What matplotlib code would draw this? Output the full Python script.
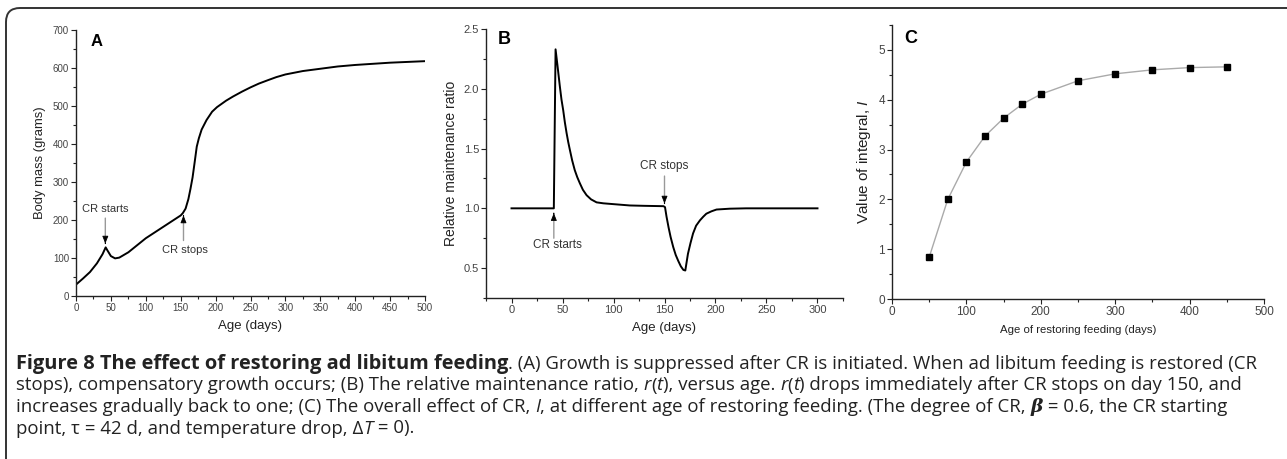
import matplotlib
matplotlib.use('Agg')
import matplotlib.pyplot as plt
from matplotlib.patches import FancyBboxPatch
from matplotlib.ticker import MultipleLocator
from matplotlib.transforms import IdentityTransform

W, H = 1287, 459
plt.rcParams['font.family'] = ['Liberation Sans', 'DejaVu Sans']
plt.rcParams['mathtext.fontset'] = 'custom'
plt.rcParams['mathtext.it'] = 'Liberation Sans:italic'
plt.rcParams['mathtext.rm'] = 'Liberation Sans'

# panel A: body mass vs age
age_a = [0, 10, 20, 30, 38, 42.5, 45, 50, 56, 62, 75, 100, 125, 140, 150, 153,
         157, 161, 164, 167, 170, 173, 176, 180, 187, 195, 202, 215, 225, 238, 250,
         262, 275, 287, 300, 325, 350, 375, 400, 425, 450, 475, 500]
mass_a = [30, 46, 63, 86, 110, 128, 120, 105, 99, 101, 115, 152, 182, 200, 212, 218,
          230, 255, 282, 312, 352, 393, 415, 438, 463, 485, 497, 514, 525, 538, 549,
          559, 568, 576, 583, 592, 598, 604, 608, 611, 614, 616, 618]

# panel B: relative maintenance ratio vs age
age_b = [0, 41.5, 43.2, 45, 47.4, 49, 50.7, 52.3, 54, 55.6, 57.2, 59.5, 62, 64.5, 67,
         70, 73.6, 78, 83.4, 90, 100, 116, 130, 149,
         150.5, 152, 154, 156, 158.6, 161, 163.5, 166, 168.5, 170.4, 171.5, 173, 175.5,
         178, 181, 184.8, 188, 191, 196, 201, 214, 230, 300]
ratio_b = [1.0, 1.0, 2.33, 2.2, 2.02, 1.91, 1.82, 1.72, 1.63, 1.555, 1.49, 1.4, 1.32,
           1.26, 1.21, 1.155, 1.11, 1.075, 1.05, 1.042, 1.035, 1.024, 1.021, 1.018,
           1.01, 0.93, 0.84, 0.76, 0.675, 0.61, 0.56, 0.515, 0.485, 0.48, 0.54, 0.62,
           0.71, 0.79, 0.855, 0.9, 0.93, 0.955, 0.975, 0.99, 0.997, 1.0, 1.0]

# panel C: value of integral vs age of restoring feeding
age_c = [50, 75, 100, 125, 150, 175, 200, 250, 300, 350, 400, 450]
integral_c = [0.84, 2.0, 2.75, 3.27, 3.63, 3.91, 4.11, 4.38, 4.52, 4.60, 4.645, 4.66]

TXT = '#222222'
TICK = '#444444'


def style_axis(ax, tick_size):
    for s in ('top', 'right'):
        ax.spines[s].set_visible(False)
    for s in ('left', 'bottom'):
        ax.spines[s].set_linewidth(1.0)
        ax.spines[s].set_color('#222222')
    ax.tick_params(which='both', direction='out', colors='#222222',
                   labelcolor=TICK, labelsize=tick_size, width=0.8)
    ax.tick_params(which='major', length=3.5, pad=1.5)
    ax.tick_params(which='minor', length=2)


def arrow(ax, x, y0, y1):
    # grey shaft, small black head
    ax.annotate('', xy=(x, y1), xytext=(x, y0),
                arrowprops=dict(arrowstyle='-', color='#999999', lw=1.0,
                                shrinkA=0, shrinkB=0))
    ax.annotate('', xy=(x, y1), xytext=(x, y1 + (y0 - y1) * 0.01),
                arrowprops=dict(arrowstyle='-|>,head_length=0.45,head_width=0.18',
                                color='black', lw=0.6, shrinkA=0, shrinkB=0))


fig = plt.figure(figsize=(W / 100, H / 100), dpi=100)

# ---- A
axA = fig.add_axes([76 / W, 1 - 296 / H, 349 / W, 266 / H])
axA.plot(age_a, mass_a, color='black', lw=1.4)
axA.set_xlim(0, 500); axA.set_ylim(0, 700)
axA.xaxis.set_major_locator(MultipleLocator(50)); axA.xaxis.set_minor_locator(MultipleLocator(25))
axA.yaxis.set_major_locator(MultipleLocator(100)); axA.yaxis.set_minor_locator(MultipleLocator(50))
style_axis(axA, 7)
axA.set_ylabel('Body mass (grams)', fontsize=9.4, color=TXT, labelpad=5)
axA.set_xlabel('Age (days)', fontsize=9.5, color=TXT, labelpad=5)
axA.text(0.06, 0.955, 'A', transform=axA.transAxes, fontsize=12, fontweight='bold',
         va='center', ha='center')
axA.text(41.5, 228, 'CR starts', fontsize=8, color='#333333', ha='center', va='center')
arrow(axA, 42, 205, 138)
axA.text(156, 121, 'CR stops', fontsize=8, color='#333333', ha='center', va='center')
arrow(axA, 154, 146, 212)

# ---- B
axB = fig.add_axes([486 / W, 1 - 298 / H, 357 / W, 269 / H])
axB.plot(age_b, ratio_b, color='black', lw=1.4)
axB.set_xlim(-25, 325); axB.set_ylim(0.25, 2.5)
axB.set_xticks([0, 50, 100, 150, 200, 250, 300])
axB.xaxis.set_minor_locator(MultipleLocator(25))
axB.yaxis.set_major_locator(MultipleLocator(0.5)); axB.yaxis.set_minor_locator(MultipleLocator(0.25))
axB.yaxis.set_major_formatter(lambda v, p: f'{v:.1f}')
style_axis(axB, 8)
axB.set_ylabel('Relative maintenance ratio', fontsize=10, color=TXT, labelpad=4)
axB.set_xlabel('Age (days)', fontsize=9.5, color=TXT, labelpad=5)
axB.text(0.05, 0.96, 'B', transform=axB.transAxes, fontsize=13, fontweight='bold',
         va='center', ha='center')
axB.text(150, 1.35, 'CR stops', fontsize=8.5, color='#333333', ha='center', va='center')
arrow(axB, 150, 1.27, 1.04)
axB.text(45, 0.69, 'CR starts', fontsize=8.5, color='#333333', ha='center', va='center')
arrow(axB, 41.5, 0.75, 0.96)

# ---- C
axC = fig.add_axes([892 / W, 1 - 299 / H, 372 / W, 274 / H])
axC.plot(age_c, integral_c, color='#aaaaaa', lw=1.0, zorder=2)
axC.plot(age_c, integral_c, ls='none', marker='s', ms=4.2, color='black', zorder=3)
axC.set_xlim(0, 500); axC.set_ylim(0, 5.5)
axC.xaxis.set_major_locator(MultipleLocator(100)); axC.xaxis.set_minor_locator(MultipleLocator(50))
axC.set_yticks([0, 1, 2, 3, 4, 5])
axC.yaxis.set_minor_locator(MultipleLocator(0.5))
style_axis(axC, 8.5)
axC.set_ylabel(r'Value of integral, $\it{I}$', fontsize=11, color=TXT, labelpad=4)
axC.set_xlabel('Age of restoring feeding (days)', fontsize=8.2, color=TXT, labelpad=5)
axC.text(0.051, 0.949, 'C', transform=axC.transAxes, fontsize=13, fontweight='bold',
         va='center', ha='center')

# ---- frame round the figure (open at the bottom, clipped at the right)
frame = FancyBboxPatch((6, -40), 1300, H - 8 + 40, boxstyle='round,pad=0,rounding_size=14',
                       transform=IdentityTransform(), fill=False, lw=1.4, ec='#333333')
fig.add_artist(frame)

# ---- caption, drawn run by run
CAP = ['Open Sans', 'DejaVu Sans']
REG = dict(weight='normal', style='normal')
BLD = dict(weight='bold', style='normal', size=14.4)
ITA = dict(weight='normal', style='italic')
MATHB = dict(weight='bold', style='italic', family=['DejaVu Serif'])

lines = [
    [('Figure 8 The effect of restoring ad libitum feeding', BLD),
     ('. (A) Growth is suppressed after CR is initiated. When ad libitum feeding is restored (CR', REG)],
    [('stops), compensatory growth occurs; (B) The relative maintenance ratio, ', REG),
     ('r', ITA), ('(', REG), ('t', ITA), ('), versus age. ', REG), ('r', ITA), ('(', REG),
     ('t', ITA), (') drops immediately after CR stops on day 150, and', REG)],
    [('increases gradually back to one; (C) The overall effect of CR, ', REG), ('I', ITA),
     (', at different age of restoring feeding. (The degree of CR, ', REG), ('β', MATHB),
     (' = 0.6, the CR starting', REG)],
    [('point, ', REG), ('τ', REG), (' = 42 d, and temperature drop, Δ', REG), ('T', ITA),
     (' = 0).', REG)],
]
baselines = [369, 390.5, 412, 433.5]
cap_size = 13.45

renderer = fig.canvas.get_renderer()
for runs, yb in zip(lines, baselines):
    x = 16.0
    for s, st in runs:
        kw = dict(st)
        fam = kw.pop('family', CAP)
        size = kw.pop('size', cap_size)
        t = fig.text(x / W, 1 - yb / H, s, fontsize=size, family=fam, color=TXT,
                     va='baseline', ha='left', **kw)
        x += t.get_window_extent(renderer=renderer).width

fig.savefig('out.png', dpi=100)
